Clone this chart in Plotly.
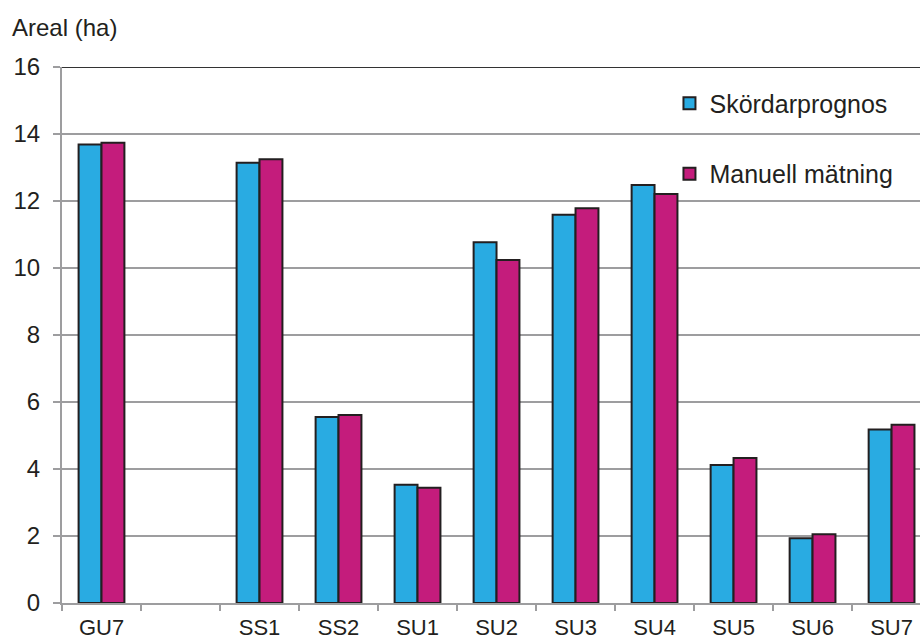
import plotly.graph_objects as go

# Field areas (ha): harvester estimate vs. manual measurement
categories = ["GU7", " ", "SS1", "SS2", "SU1", "SU2", "SU3", "SU4", "SU5", "SU6", "SU7"]
skordarprognos = [13.69, None, 13.14, 5.55, 3.53, 10.77, 11.59, 12.48, 4.12, 1.93, 5.18]
manuell_matning = [13.74, None, 13.25, 5.61, 3.44, 10.24, 11.78, 12.21, 4.33, 2.05, 5.32]
y_ticks = [0, 2, 4, 6, 8, 10, 12, 14, 16]

BLUE = "#29ABE2"
MAGENTA = "#C41C7C"
OUTLINE = "#231F20"
GRID = "#9D9D9F"
FONT = "Liberation Sans, Arial, sans-serif"

fig = go.Figure()
fig.add_trace(go.Bar(
    x=categories, y=skordarprognos, name="Skördarprognos", legendgroup="a",
    marker=dict(color=BLUE, line=dict(color=OUTLINE, width=2)),
))
fig.add_trace(go.Bar(
    x=categories, y=manuell_matning, name="Manuell mätning", legendgroup="b",
    marker=dict(color=MAGENTA, line=dict(color=OUTLINE, width=2)),
))

fig.update_layout(
    width=920, height=642,
    margin=dict(l=62, r=0, t=67, b=39),
    paper_bgcolor="white", plot_bgcolor="white",
    font=dict(family=FONT, size=24, color="#231F20"),
    barmode="group", bargap=0.42, bargroupgap=0,
    showlegend=True,
    legend=dict(
        x=0.708, y=0.975, xanchor="left", yanchor="top",
        bgcolor="rgba(0,0,0,0)", font=dict(size=25),
        tracegroupgap=35, traceorder="grouped",
        itemwidth=30,
    ),
    xaxis=dict(
        type="category", range=[-0.5, 10.36], automargin=False,
        showgrid=False, showline=True, linecolor=GRID, linewidth=2,
        ticks="outside", tickson="boundaries", ticklen=6, tickcolor=GRID, tickwidth=1.5,
        tickfont=dict(size=22), ticklabelstandoff=4,
    ),
    yaxis=dict(
        range=[0, 16], tickvals=y_ticks, automargin=False,
        showgrid=True, gridcolor=GRID, gridwidth=2,
        showline=True, linecolor=GRID, linewidth=2,
        ticks="outside", ticklen=7, tickcolor=GRID, tickwidth=1.5,
        tickfont=dict(size=24), zeroline=False, ticklabelstandoff=8,
    ),
    shapes=[dict(type="line", xref="paper", yref="y", x0=0, x1=1, y0=16, y1=16,
                 line=dict(color="#333333", width=2))],
    annotations=[dict(text="Areal (ha)", xref="paper", yref="paper",
                      x=-0.061, y=1.073, xanchor="left", yanchor="middle",
                      showarrow=False, font=dict(size=24))],
)

fig.write_html("out.html")
